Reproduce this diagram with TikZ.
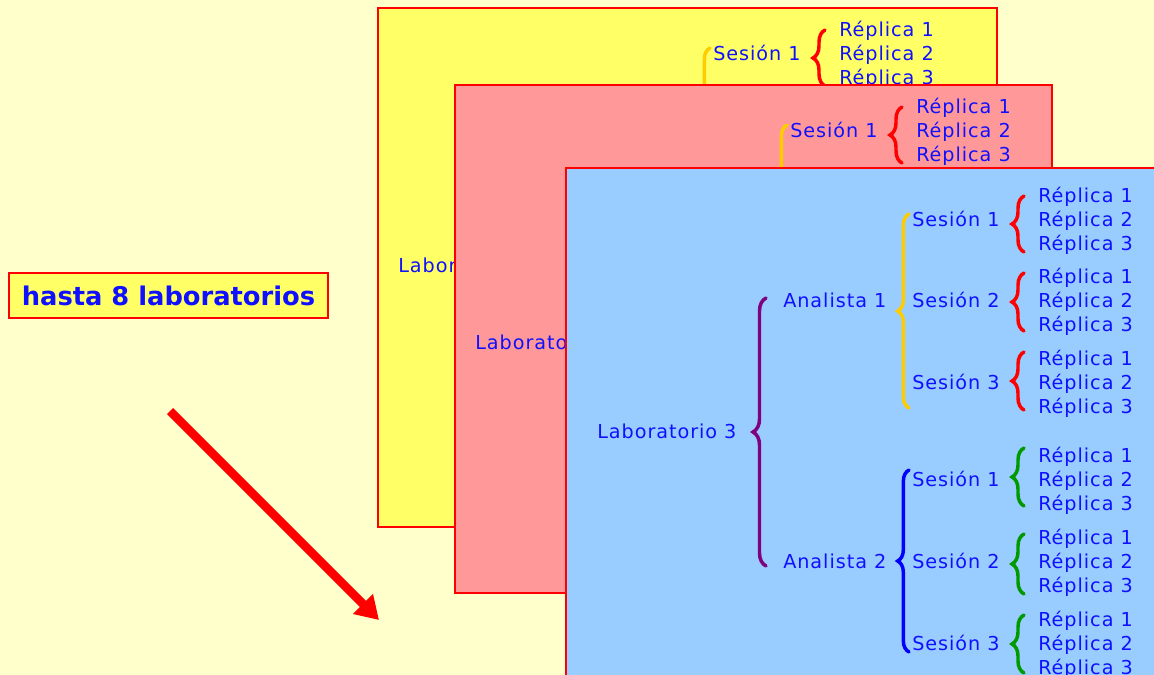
\documentclass[tikz,border=0pt]{standalone}
\usepackage{fontspec}
\usetikzlibrary{decorations.pathreplacing,arrows.meta}
\newfontfamily\lblfont[LetterSpace=5]{DejaVu Sans}
\newfontfamily\hdfont{DejaVu Sans}
\definecolor{bgc}{HTML}{FFFFCC}
\definecolor{yelc}{HTML}{FFFF66}
\definecolor{pinkc}{HTML}{FF9999}
\definecolor{bluec}{HTML}{99CCFF}
\definecolor{txtc}{HTML}{1010FF}
\definecolor{goldc}{HTML}{FFCC00}
\definecolor{purpc}{HTML}{800080}
\definecolor{greenc}{HTML}{009900}
\tikzset{
  lbl/.style={anchor=base west, inner sep=0pt, text=txtc, font=\lblfont\fontsize{14.4pt}{16pt}\selectfont},
  curly/.style={decorate, decoration={brace, amplitude=#1}, line width=2.6pt, line cap=round},
  panel/.style={draw=red, line width=0.8pt},
}
% visible top part of a laboratory tree
\newcommand{\labtop}[4]{%
\begin{scope}[shift={(#2,#3)}]
  \node[lbl] (#1L) at (597,438) {Laboratorio #4};
  \coordinate (#1ya) at (909,408); \coordinate (#1yb) at (909,214);
  \draw[curly=8.5pt, draw=goldc] (#1ya) -- (#1yb);
  \node[lbl] (#1Sa1) at (912,226) {Sesión 1};
  \coordinate (#1ra1) at (1024,252); \coordinate (#1rb1) at (1024,196);
  \draw[curly=9pt, draw=red] (#1ra1) -- (#1rb1);
  \foreach \k in {1,2,3}{
    \node[lbl] (#1Ra1\k) at (1038,226+24*\k-48) {Réplica \k};
  }
\end{scope}}
% complete laboratory tree
\newcommand{\labfull}[4]{%
\begin{scope}[shift={(#2,#3)}]
  \node[lbl] (#1L) at (597,438) {Laboratorio #4};
  \coordinate (#1pa) at (766,566); \coordinate (#1pb) at (766,298);
  \draw[curly=9.75pt, draw=purpc] (#1pa) -- (#1pb);
  \node[lbl] (#1A1) at (783,307) {Analista 1};
  \node[lbl] (#1A2) at (783,568) {Analista 2};
  \coordinate (#1ya) at (909,408); \coordinate (#1yb) at (909,214);
  \draw[curly=8.5pt, draw=goldc] (#1ya) -- (#1yb);
  \coordinate (#1ba) at (909,652); \coordinate (#1bb) at (909,470);
  \draw[curly=8.5pt, draw=blue] (#1ba) -- (#1bb);
  \foreach \s/\yc/\ya/\yb/\cc in {1/220/196/252/red, 2/301/273/331/red, 3/383/352/410/red}{
    \node[lbl] (#1Sa\s) at (912,\yc+6) {Sesión \s};
    \coordinate (#1ra\s) at (1024,\yb); \coordinate (#1rb\s) at (1024,\ya);
    \draw[curly=9pt, draw=\cc] (#1ra\s) -- (#1rb\s);
    \foreach \k in {1,2,3}{
      \node[lbl] (#1Ra\s\k) at (1038,\yc+6+24*\k-48) {Réplica \k};
    }
  }
  \foreach \s/\yc/\ya/\yb/\cc in {1/480/448/506/greenc, 2/562/534/594/greenc, 3/644/615/673/greenc}{
    \node[lbl] (#1Sb\s) at (912,\yc+6) {Sesión \s};
    \coordinate (#1ga\s) at (1024,\yb); \coordinate (#1gb\s) at (1024,\ya);
    \draw[curly=9pt, draw=\cc] (#1ga\s) -- (#1gb\s);
    \foreach \k in {1,2,3}{
      \node[lbl] (#1Rb\s\k) at (1038,\yc+6+24*\k-48) {Réplica \k};
    }
  }
\end{scope}}
\begin{document}
\begin{tikzpicture}[x=0.75pt,y=-0.75pt]
  \useasboundingbox (0,0) rectangle (1154,675);
  \clip (0,0) rectangle (1154,675);
  \fill[bgc] (0,0) rectangle (1154,675);
  \node[panel, fill=yelc, minimum width=239.25pt, minimum height=33.75pt, inner sep=0pt,
        text=txtc, font=\hdfont\bfseries\fontsize{19.3pt}{21pt}\selectfont] (hasta) at (168.5,295.5) {hasta 8 laboratorios};
  \coordinate (ar1) at (170,411);
  \coordinate (ar2) at (379,620);
  \draw[red, line width=6.5pt, -{Triangle[length=17pt,width=20pt]}] (ar1) -- (ar2);
  \draw[panel, fill=yelc] (378,8) rectangle (997,527);
  \labtop{y}{-199}{-166}{1}
  \draw[panel, fill=pinkc] (455,85) rectangle (1052,593);
  \labtop{p}{-122}{-89}{2}
  \draw[panel, fill=bluec] (566,168) rectangle (1170,690);
  \labfull{b}{0}{0}{3}
\end{tikzpicture}
\end{document}
